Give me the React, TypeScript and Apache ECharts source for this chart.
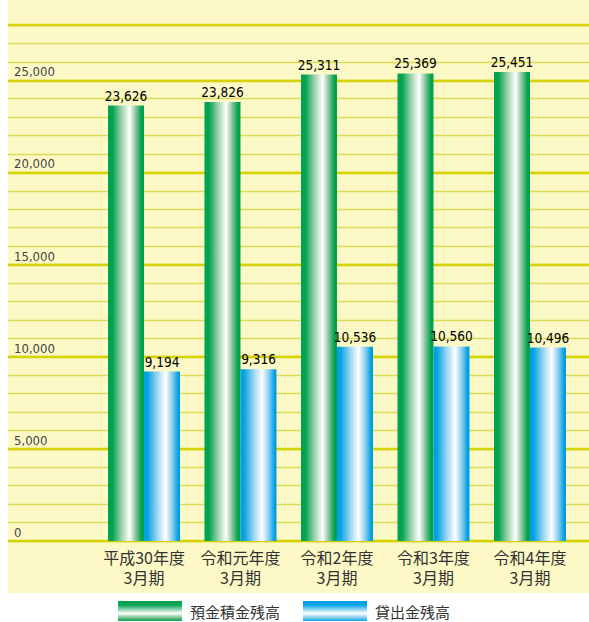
import React, { useEffect, useRef } from 'react';
import * as echarts from 'echarts';

const categories = ['平成30年度\n3月期', '令和元年度\n3月期', '令和2年度\n3月期', '令和3年度\n3月期', '令和4年度\n3月期'];
const depositValues = [23626, 23826, 25311, 25369, 25451];
const loanValues = [9194, 9316, 10536, 10560, 10496];
const seriesNames = ['預金積金残高', '貸出金残高'];
const yMin = 0;
const yMax = 28000;
const labelMax = 25000;
const minorInterval = 1000;
const majorInterval = 5000;

const NARROW = '"DejaVu Sans Condensed", "Liberation Sans Narrow", sans-serif';
const CJK = '"Noto Sans CJK JP", "Noto Sans CJK SC", sans-serif';

const hGrad = (stops: [number, string][]) => ({
  type: 'linear', x: 0, y: 0, x2: 1, y2: 0,
  colorStops: stops.map(([offset, color]) => ({ offset, color })),
});
const vGrad = (stops: [number, string][]) => ({
  type: 'linear', x: 0, y: 0, x2: 0, y2: 1,
  colorStops: stops.map(([offset, color]) => ({ offset, color })),
});

const G = '#00a14f';
const B = '#009fe3';
const greenStops: [number, string][] = [[0, G], [0.13, '#05a354'], [0.35, '#8ecd9f'], [0.6, '#ffffff'], [0.8, '#71bd88'], [0.93, G], [1, G]];
const blueStops: [number, string][] = [[0, B], [0.1, '#06a2e4'], [0.35, '#92d2f1'], [0.6, '#ffffff'], [0.8, '#80caef'], [0.95, B], [1, B]];
const greenLegend: [number, string][] = [[0, G], [0.2, '#0aa557'], [0.62, '#ffffff'], [0.88, '#5cb678'], [1, G]];
const blueLegend: [number, string][] = [[0, B], [0.2, '#0ba4e4'], [0.62, '#ffffff'], [0.88, '#66c0ec'], [1, B]];

export default function App() {
  const ref = useRef<HTMLDivElement>(null);
  useEffect(() => {
    if (!ref.current) return;
    const chart = echarts.init(ref.current, undefined, { renderer: 'svg' });
    const valueLabel = {
      show: true,
      position: 'top',
      distance: 3,
      fontFamily: NARROW,
      fontSize: 13.5,
      color: '#000',
      formatter: (p: any) => Number(p.value).toLocaleString('en-US'),
    };
    chart.setOption({
      animation: false,
      graphic: [
        { type: 'rect', z: -10, shape: { x: 8, y: 0, width: 581, height: 593 }, style: { fill: '#fdf9c6' }, silent: true },
      ],
      grid: [
        { left: 8, right: 0, top: 25, bottom: 81 },
        { left: 95.75, right: 10.75, top: 25, bottom: 81 },
      ],
      legend: {
        left: 118,
        top: 601,
        padding: 0,
        itemWidth: 64,
        itemHeight: 20,
        itemGap: 23,
        icon: 'rect',
        textStyle: { fontFamily: CJK, fontSize: 15, color: '#333', padding: [0, 0, 0, 3] },
        data: [
          { name: seriesNames[0], itemStyle: { color: vGrad(greenLegend) } },
          { name: seriesNames[1], itemStyle: { color: vGrad(blueLegend) } },
        ],
      },
      xAxis: [
        { type: 'value', gridIndex: 0, show: false, min: 0, max: 1 },
        {
          type: 'category',
          gridIndex: 1,
          data: categories,
          axisLine: { show: false },
          axisTick: { show: false },
          axisLabel: { interval: 0, fontFamily: CJK, fontSize: 16, lineHeight: 20, color: '#333', margin: 6 },
        },
      ],
      yAxis: [
        {
          type: 'value', gridIndex: 0, min: yMin, max: yMax, interval: minorInterval,
          axisLine: { show: false }, axisTick: { show: false }, axisLabel: { show: false },
          splitLine: { show: true, lineStyle: { color: '#dcdb5c', width: 1.3 } },
        },
        {
          type: 'value', gridIndex: 0, min: yMin, max: yMax, interval: majorInterval, position: 'left',
          axisLine: { show: false }, axisTick: { show: false },
          axisLabel: {
            inside: true, margin: 6, fontFamily: NARROW, fontSize: 13, color: '#444',
            verticalAlign: 'bottom', padding: [0, 0, 2, 0],
            formatter: (v: number) => (v > labelMax ? '' : v.toLocaleString('en-US')),
          },
          splitLine: { show: true, lineStyle: { color: '#d4d300', width: 2.4 } },
        },
        { type: 'value', gridIndex: 1, min: yMin, max: yMax, show: false, splitLine: { show: false } },
      ],
      series: [
        {
          name: seriesNames[0], type: 'bar', xAxisIndex: 1, yAxisIndex: 2,
          data: depositValues, barWidth: 36, barGap: '0%',
          itemStyle: { color: hGrad(greenStops) }, label: valueLabel,
        },
        {
          name: seriesNames[1], type: 'bar', xAxisIndex: 1, yAxisIndex: 2,
          data: loanValues, barWidth: 36, barGap: '0%',
          itemStyle: { color: hGrad(blueStops) }, label: valueLabel,
        },
      ],
    });
    return () => chart.dispose();
  }, []);
  return <div ref={ref} style={{ position: 'absolute', left: 0, top: 0, width: 589, height: 622 }} />;
}
